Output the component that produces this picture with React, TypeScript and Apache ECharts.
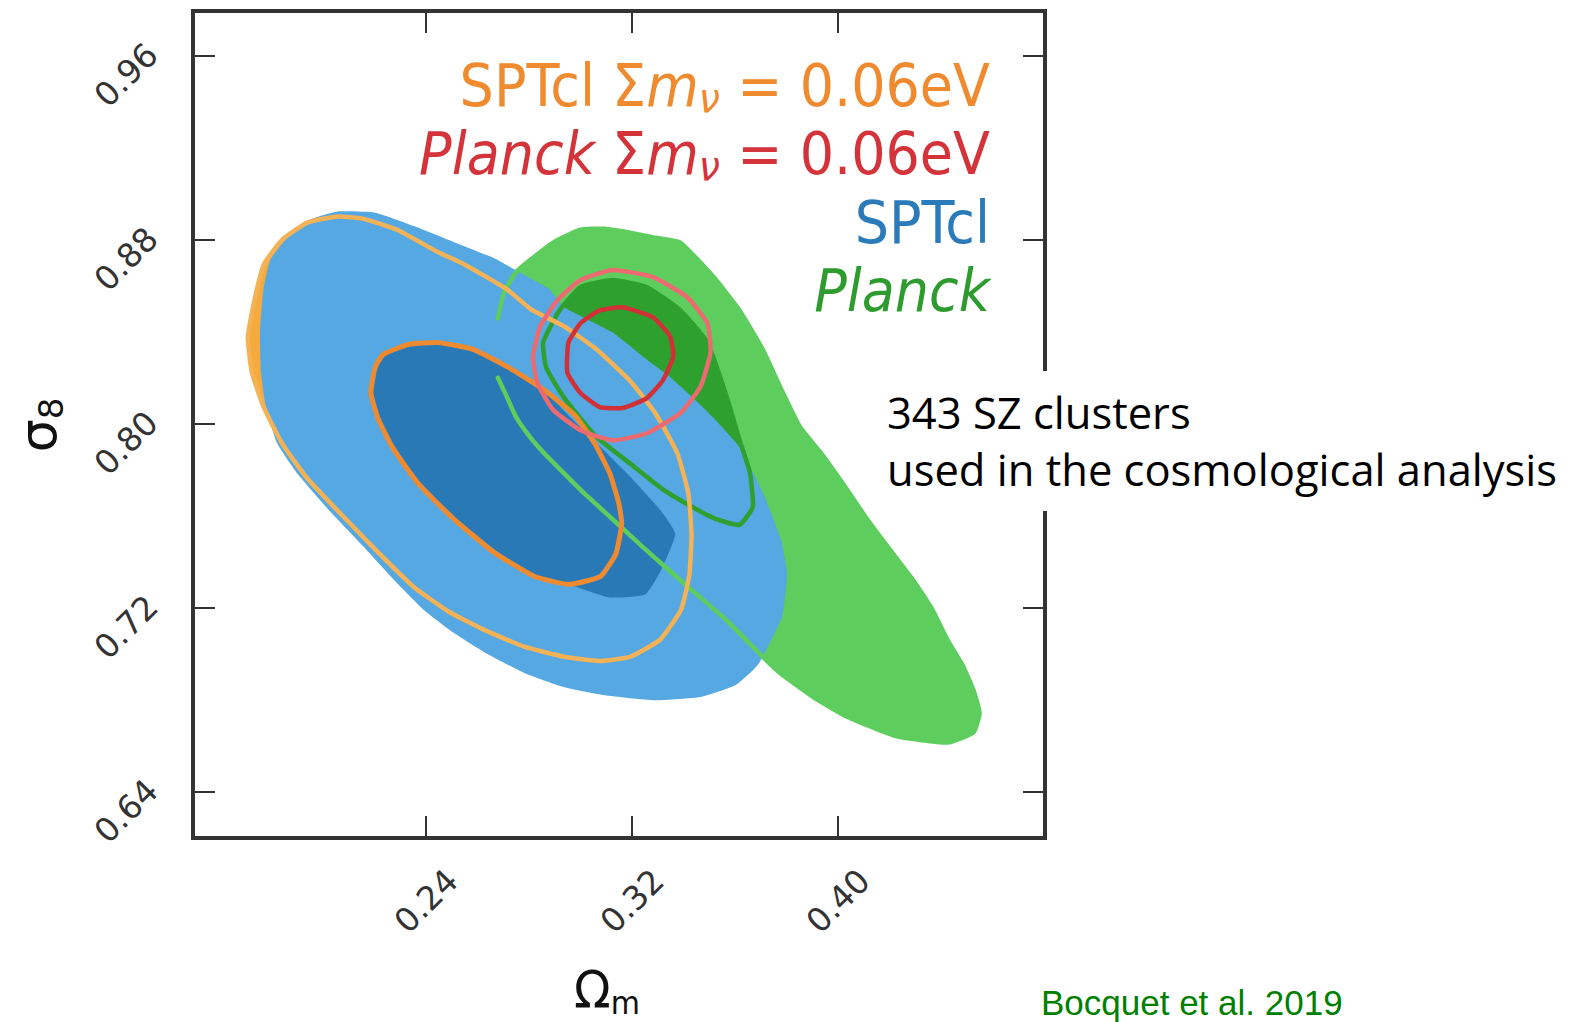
import React, { useEffect, useRef } from 'react';
import * as echarts from 'echarts';

// ---- axes ----
const xRange = [0.1495, 0.4804];
const yRange = [0.62, 0.9796];
const xTicks = [0.24, 0.32, 0.4];
const yTicks = [0.64, 0.72, 0.8, 0.88, 0.96];

// ---- contours (Omega_m, sigma_8) ----
const sptOuter: number[][] = [
  [0.1795, 0.8713], [0.1861, 0.881], [0.1951, 0.8889], [0.2057, 0.8924], [0.2202, 0.8919],
  [0.235, 0.8862], [0.2507, 0.8792], [0.2663, 0.8722], [0.2761, 0.8661], [0.2879, 0.8586],
  [0.2937, 0.8508], [0.3125, 0.8398], [0.3258, 0.828], [0.3337, 0.8214], [0.3438, 0.8113],
  [0.3517, 0.8026], [0.3618, 0.7899], [0.3708, 0.7702], [0.3779, 0.7496], [0.3802, 0.7351],
  [0.3783, 0.7163], [0.3689, 0.6953], [0.3603, 0.6865], [0.3466, 0.6813], [0.329, 0.6799],
  [0.3094, 0.6821], [0.2937, 0.6856], [0.2781, 0.6918], [0.2644, 0.6997], [0.2507, 0.7093],
  [0.2389, 0.7194], [0.2292, 0.7303], [0.2155, 0.747], [0.2018, 0.7632], [0.19, 0.7785],
  [0.1822, 0.7916], [0.1779, 0.807], [0.1759, 0.8223], [0.1755, 0.8398], [0.1767, 0.8573],
];
const sptInner: number[][] = [
  [0.2233, 0.8302], [0.2331, 0.8346], [0.2448, 0.8354], [0.2585, 0.8324], [0.2742, 0.8232],
  [0.2859, 0.8157], [0.2933, 0.8061], [0.3063, 0.7916], [0.3192, 0.7772], [0.3309, 0.7627],
  [0.3368, 0.7522], [0.3309, 0.7356], [0.3251, 0.7259], [0.3114, 0.7246], [0.2977, 0.7294],
  [0.2859, 0.7325], [0.2742, 0.7391], [0.2585, 0.7522], [0.2429, 0.7675], [0.2292, 0.7851],
  [0.2213, 0.8004], [0.2186, 0.8135], [0.2202, 0.8245],
];
const sptNuOuter: number[][] = [
  [0.1732, 0.853], [0.1771, 0.8696], [0.1841, 0.8801], [0.1939, 0.8876], [0.2057, 0.8902],
  [0.2155, 0.8893], [0.2288, 0.8845], [0.2444, 0.8749], [0.2546, 0.8696], [0.2714, 0.8586],
  [0.2808, 0.8499], [0.2937, 0.8424], [0.3063, 0.8324], [0.3192, 0.8188], [0.329, 0.8048],
  [0.3376, 0.7873], [0.3419, 0.7697], [0.3431, 0.7522], [0.3423, 0.7347], [0.3391, 0.7194],
  [0.3309, 0.7062], [0.3192, 0.6988], [0.3074, 0.697], [0.2937, 0.6988], [0.2781, 0.7032],
  [0.2624, 0.7106], [0.2487, 0.7185], [0.235, 0.7294], [0.2213, 0.7443], [0.2076, 0.7601],
  [0.1939, 0.7763], [0.1841, 0.7916], [0.1771, 0.807], [0.1724, 0.8223], [0.1708, 0.8376],
];
const sptNuInner: number[][] = [
  [0.2233, 0.8302], [0.2331, 0.8346], [0.2448, 0.8354], [0.2585, 0.8324], [0.2722, 0.8245],
  [0.2859, 0.8148], [0.2977, 0.8039], [0.3055, 0.7916], [0.3114, 0.7785], [0.3149, 0.7654],
  [0.316, 0.7566], [0.3137, 0.7435], [0.3078, 0.7338], [0.2957, 0.7303], [0.282, 0.7338],
  [0.2663, 0.7443], [0.2507, 0.7588], [0.237, 0.7741], [0.2272, 0.7894], [0.2213, 0.8026],
  [0.2186, 0.8135], [0.2202, 0.8245],
];
const planckOuter: number[][] = [
  [0.2679, 0.8459], [0.2703, 0.8573], [0.275, 0.8661], [0.2804, 0.8713], [0.2898, 0.8792],
  [0.3, 0.8845], [0.3094, 0.8849], [0.3192, 0.8832], [0.329, 0.881], [0.3388, 0.8788],
  [0.3517, 0.8639], [0.3618, 0.8494], [0.3708, 0.8324], [0.3775, 0.8162], [0.3853, 0.7986],
  [0.3935, 0.7873], [0.4033, 0.7719], [0.4112, 0.7588], [0.4209, 0.7443], [0.4292, 0.7321],
  [0.4366, 0.7194], [0.4425, 0.7062], [0.4483, 0.6953], [0.4526, 0.6843], [0.455, 0.6742],
  [0.4526, 0.6659], [0.4425, 0.6615], [0.4229, 0.6642], [0.4033, 0.6729], [0.3904, 0.6813],
  [0.3775, 0.6918], [0.3708, 0.6988], [0.3564, 0.715], [0.3388, 0.7321], [0.3251, 0.7456],
  [0.3114, 0.7597], [0.3016, 0.7697], [0.2933, 0.7789], [0.2859, 0.7873], [0.2804, 0.7943],
  [0.275, 0.803], [0.2714, 0.8118], [0.2679, 0.8201], [0.2671, 0.8332],
];
const planckInner: number[][] = [
  [0.2918, 0.8494], [0.3, 0.8595], [0.3125, 0.8626], [0.3258, 0.8595], [0.3388, 0.8494],
  [0.3493, 0.8354], [0.3568, 0.8118], [0.3618, 0.7929], [0.3658, 0.7789], [0.3669, 0.764],
  [0.3618, 0.7562], [0.3525, 0.7588], [0.3454, 0.7627], [0.3321, 0.7715], [0.3192, 0.7829],
  [0.3063, 0.7943], [0.2937, 0.8113], [0.2867, 0.8245], [0.2855, 0.8354],
];
const planckNuOuter: number[][] = [
  [0.3125, 0.867], [0.3282, 0.8639], [0.3415, 0.8551], [0.3493, 0.8438], [0.3505, 0.8311],
  [0.3466, 0.8162], [0.3388, 0.8048], [0.3258, 0.796], [0.3125, 0.7929], [0.3, 0.7973],
  [0.2894, 0.8061], [0.2832, 0.8179], [0.2816, 0.8293], [0.2843, 0.8424], [0.291, 0.8538],
  [0.3, 0.8626],
];
const planckNuInner: number[][] = [
  [0.3164, 0.8508], [0.3282, 0.8464], [0.3348, 0.8381], [0.336, 0.8293], [0.3321, 0.8192],
  [0.3258, 0.8113], [0.3164, 0.807], [0.3074, 0.8074], [0.3, 0.8135], [0.2949, 0.8223],
  [0.2953, 0.8354], [0.3, 0.8438], [0.3074, 0.8494],
];

// ---- texts ----
const legendRows = [
  { text: '{t|SPTcl Σ}{mi|m}{sub|ν}{t| = 0.06eV}', color: '#f08a2e' },
  { text: '{it|Planck }{t|Σ}{mi|m}{sub|ν}{t| = 0.06eV}', color: '#d4333a' },
  { text: '{t|SPTcl}', color: '#2b7bba' },
  { text: '{it|Planck}', color: '#2e9b2e' },
];
const noteLines = ['343 SZ clusters', 'used in the cosmological analysis'];
const sourceText = 'Bocquet et al. 2019';

const C = {
  blueLight: '#55a8e2',
  blueDark: '#2a79b7',
  greenLight: '#5dce5d',
  greenDark: '#2ea02e',
  orangeFill: '#f6aa3c',
  orangeOuter: '#f4b257',
  orangeInner: '#ee8a30',
  pink: '#ec6b70',
  red: '#d13037',
};

function shape(points: number[][], opts: { fill?: string; stroke?: string; lw?: number; open?: boolean }) {
  return {
    type: 'custom',
    coordinateSystem: 'cartesian2d',
    xAxisIndex: 0,
    yAxisIndex: 0,
    silent: true,
    data: [points[0]],
    renderItem: (_params: any, api: any) => {
      const pts = points.map((p) => api.coord(p));
      if (opts.fill) {
        return { type: 'polygon', shape: { points: pts, smooth: 0.15 }, style: { fill: opts.fill, stroke: null } };
      }
      return {
        type: opts.open ? 'polyline' : 'polygon',
        shape: { points: pts, smooth: 0.15 },
        style: { fill: null, stroke: opts.stroke, lineWidth: opts.lw || 4, lineJoin: 'round', lineCap: 'round' },
      };
    },
  };
}

export default function App() {
  const ref = useRef<HTMLDivElement>(null);
  useEffect(() => {
    if (!ref.current) return;
    const chart = echarts.init(ref.current, null, { renderer: 'svg' });
    const font = 'DejaVu Sans';
    const lgSize = 54;
    const rich = (color: string) => ({
      t: { fill: color, fontFamily: font, fontSize: lgSize, lineHeight: 60 },
      it: { fill: color, fontFamily: font, fontSize: lgSize, fontStyle: 'italic', lineHeight: 60 },
      mi: { fill: color, fontFamily: font, fontSize: lgSize, fontStyle: 'italic', lineHeight: 60 },
      sub: { fill: color, fontFamily: font, fontSize: 38, fontStyle: 'italic', lineHeight: 32, verticalAlign: 'bottom' },
    });
    const legendY = [86, 154, 223, 291];
    const tickAxisCommon = {
      type: 'value',
      splitLine: { show: false },
      axisLine: { show: false },
    };
    const option: any = {
      animation: false,
      backgroundColor: '#ffffff',
      textStyle: { fontFamily: font },
      grid: {
        left: 193, top: 11, right: 535, bottom: 184,
        show: true, borderColor: '#333333', borderWidth: 4, backgroundColor: 'transparent',
      },
      xAxis: [
        {
          ...tickAxisCommon, min: xRange[0], max: xRange[1], position: 'bottom',
          axisTick: { show: true, inside: true, length: 22, customValues: xTicks, lineStyle: { color: '#333', width: 2 } },
          axisLabel: {
            show: true, customValues: xTicks, rotate: 45, align: 'center', verticalAlign: 'middle', margin: 63,
            fontSize: 33, color: '#333', fontFamily: font, formatter: (v: number) => v.toFixed(2),
          },
        },
        {
          ...tickAxisCommon, min: xRange[0], max: xRange[1], position: 'top',
          axisTick: { show: true, inside: true, length: 22, customValues: xTicks, lineStyle: { color: '#333', width: 2 } },
          axisLabel: { show: false },
        },
      ],
      yAxis: [
        {
          ...tickAxisCommon, min: yRange[0], max: yRange[1], position: 'left',
          axisTick: { show: true, inside: true, length: 22, customValues: yTicks, lineStyle: { color: '#333', width: 2 } },
          axisLabel: {
            show: true, customValues: yTicks, rotate: 45, align: 'right', verticalAlign: 'bottom', lineHeight: 20,
            margin: 34, fontSize: 33, color: '#333', fontFamily: font, formatter: (v: number) => v.toFixed(2),
          },
        },
        {
          ...tickAxisCommon, min: yRange[0], max: yRange[1], position: 'right',
          axisTick: { show: true, inside: true, length: 22, customValues: yTicks, lineStyle: { color: '#333', width: 2 } },
          axisLabel: { show: false },
        },
      ],
      series: [
        shape(sptNuOuter, { fill: C.orangeFill }),
        shape(planckOuter, { fill: C.greenLight }),
        shape(planckInner, { fill: C.greenDark }),
        shape(sptOuter, { fill: C.blueLight }),
        shape(sptInner, { fill: C.blueDark }),
        shape(planckOuter.slice(0, planckOuter.length - 1), { stroke: C.greenLight, lw: 4.5, open: true }),
        shape(planckInner, { stroke: C.greenDark, lw: 4.5 }),
        shape(sptNuOuter, { stroke: C.orangeOuter, lw: 4.5 }),
        shape(sptNuInner, { stroke: C.orangeInner, lw: 5 }),
        shape(planckNuOuter, { stroke: C.pink, lw: 4.5 }),
        shape(planckNuInner, { stroke: C.red, lw: 4.5 }),
      ],
      graphic: [
        ...legendRows.map((row, i) => ({
          type: 'text', x: 990, y: legendY[i], z: 100, scaleY: 1.08,
          style: { text: row.text, align: 'right', verticalAlign: 'middle', rich: rich(row.color), fill: row.color, fontFamily: font, fontSize: lgSize },
        })),
        {
          type: 'text', x: 38, y: 425, z: 100, rotation: Math.PI / 2,
          style: {
            text: '{s|σ}{sub|8}', align: 'center', verticalAlign: 'middle',
            rich: {
              s: { fill: '#111', fontFamily: font, fontSize: 52, lineHeight: 60 },
              sub: { fill: '#111', fontFamily: font, fontSize: 34, lineHeight: 34, verticalAlign: 'bottom' },
            },
          },
        },
        {
          type: 'text', x: 607, y: 990, z: 100, scaleY: 1.08,
          style: {
            text: '{s|Ω}{sub|m}', align: 'center', verticalAlign: 'middle',
            rich: {
              s: { fill: '#111', fontFamily: font, fontSize: 48, lineHeight: 54 },
              sub: { fill: '#111', fontFamily: font, fontSize: 30, lineHeight: 38, verticalAlign: 'bottom' },
            },
          },
        },
        { type: 'rect', z: 100, shape: { x: 876, y: 371, width: 704, height: 140 }, style: { fill: '#ffffff' } },
        ...noteLines.map((t, i) => ({
          type: 'text', x: 887, y: 412 + i * 57, z: 101,
          style: { text: t, fill: '#000', fontFamily: 'Open Sans', fontSize: 43.5, align: 'left', verticalAlign: 'middle' },
        })),
        {
          type: 'text', x: 1041, y: 1002, z: 101,
          style: { text: sourceText, fill: '#008000', fontFamily: 'Liberation Sans', fontSize: 35, align: 'left', verticalAlign: 'middle' },
        },
      ],
    };
    chart.setOption(option);
    return () => chart.dispose();
  }, []);
  return <div ref={ref} style={{ position: 'fixed', left: 0, top: 0, width: 1580, height: 1022 }} />;
}
